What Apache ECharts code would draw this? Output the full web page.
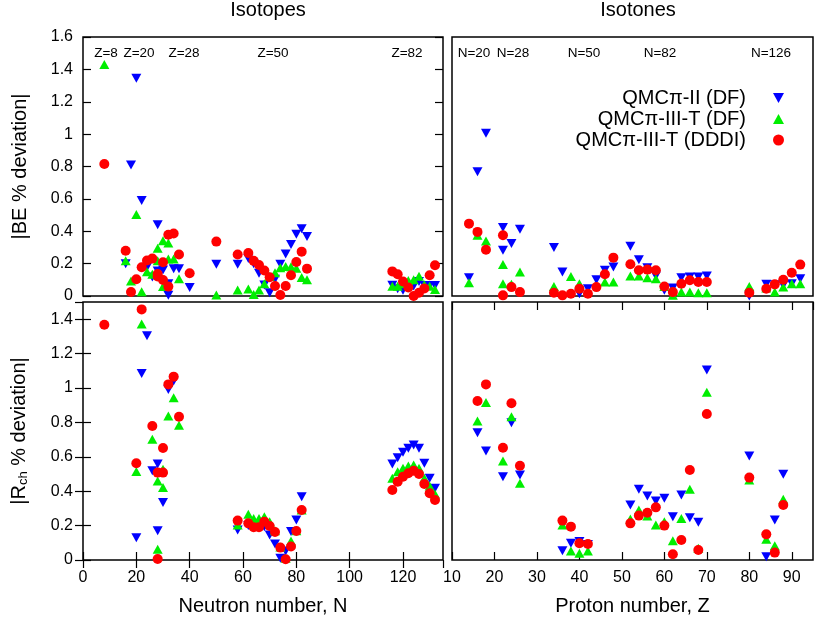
<!DOCTYPE html>
<html>
<head>
<meta charset="utf-8">
<script src="https://cdn.jsdelivr.net/npm/echarts/dist/echarts.min.js"></script>
<style>
  html, body { margin: 0; padding: 0; background: #fff; }
  #main { width: 830px; height: 623px; }
</style>
</head>
<body>
<div id="main"></div>
<script>
// series names
const names = ['QMCπ-II (DF)', 'QMCπ-III-T (DF)', 'QMCπ-III-T (DDDI)'];

// |BE % deviation| vs neutron number N (isotopes)
const beIsoII = [[16,0.2],[18,0.81],[20,1.345],[22,0.59],[24,0.178],[26,0.117],[28,0.44],[28,0.155],[30,0.16],[32,0.076],[32,0.004],[34,0.168],[36,0.168],[40,0.052],
  [50,0.196],[58,0.196],[62,0.231],[64,0.2],[66,0.14],[68,0.068],[70,0.02],[72,0.103],[74,0.196],[76,0.26],[78,0.318],[80,0.382],[82,0.415],[84,0.367],
  [116,0.066],[118,0.045],[120,0.035],[122,0.06],[124,0.062],[126,0.09],[128,0.065],[130,0.065],[132,0.065]];
const beIsoDF = [[8,1.43],[16,0.217],[18,0.093],[20,0.503],[22,0.027],[24,0.15],[26,0.134],[28,0.295],[28,0.217],[30,0.342],[30,0.058],[32,0.328],[32,0.229],[34,0.229],[36,0.107],
  [50,0.006],[58,0.037],[62,0.043],[64,0.01],[66,0.037],[68,0.075],[70,0.12],[72,0.144],[74,0.175],[76,0.183],[78,0.18],[80,0.171],[82,0.115],[84,0.1],
  [116,0.06],[118,0.06],[120,0.075],[122,0.095],[124,0.1],[126,0.122],[128,0.07],[130,0.06],[132,0.04]];
const beIsoDDDI = [[8,0.815],[16,0.28],[18,0.025],[20,0.103],[22,0.178],[24,0.219],[26,0.231],[28,0.136],[28,0.12],[30,0.209],[30,0.099],[32,0.378],[32,0.058],[34,0.386],[36,0.256],[40,0.14],
  [50,0.336],[58,0.256],[62,0.266],[64,0.217],[66,0.192],[68,0.157],[70,0.116],[72,0.062],[74,0.006],[76,0.062],[78,0.128],[80,0.21],[82,0.274],[84,0.169],
  [116,0.152],[118,0.134],[120,0.09],[122,0.053],[124,0.0],[126,0.02],[128,0.047],[130,0.128],[132,0.19]];

// |BE % deviation| vs proton number Z (isotones)
const beTonII = [[14,0.113],[16,0.767],[18,1.005],[22,0.423],[22,0.282],[24,0.324],[26,0.412],[34,0.299],[36,0.148],[40,0.014],[42,0.045],[44,0.1],[46,0.159],[48,0.179],
  [52,0.307],[54,0.224],[56,0.175],[58,0.123],[60,0.035],[62,0.049],[64,0.113],[66,0.117],[68,0.117],[70,0.123],[80,0.0],[84,0.072],[86,0.07],[88,0.066],[90,0.076],[92,0.107]];
const beTonDF = [[14,0.082],[16,0.375],[18,0.34],[22,0.194],[22,0.076],[24,0.072],[26,0.148],[34,0.059],[38,0.121],[40,0.076],[46,0.086],[48,0.086],
  [52,0.123],[54,0.123],[56,0.113],[58,0.107],[60,0.059],[62,0.004],[64,0.024],[66,0.024],[68,0.02],[70,0.02],[80,0.059],[84,0.05],[86,0.024],[88,0.055],[90,0.076],[92,0.076]];
const beTonDDDI = [[14,0.447],[16,0.396],[18,0.286],[22,0.375],[22,0.004],[24,0.055],[26,0.024],[34,0.02],[36,0.004],[38,0.014],[40,0.045],[42,0.014],[44,0.055],[46,0.134],[48,0.237],
  [52,0.196],[54,0.159],[56,0.163],[58,0.159],[60,0.059],[62,0.024],[64,0.076],[66,0.097],[68,0.086],[70,0.086],[80,0.02],[84,0.045],[86,0.072],[88,0.1],[90,0.144],[92,0.194]];

// |Rch % deviation| vs neutron number N (isotopes)
const rIsoII = [[20,0.13],[22,1.085],[24,1.304],[26,0.519],[28,0.558],[28,0.17],[30,0.335],[32,0.992],[34,1.04],
  [58,0.174],[62,0.2],[64,0.19],[66,0.19],[68,0.194],[70,0.145],[72,0.093],[74,0.01],[76,0.052],[78,0.165],[80,0.233],[82,0.368],
  [116,0.558],[118,0.595],[120,0.626],[122,0.649],[124,0.669],[126,0.649],[128,0.562],[130,0.475],[132,0.417]];
const rIsoDF = [[20,0.514],[22,1.372],[26,0.702],[28,0.459],[28,0.062],[30,0.527],[30,0.422],[32,0.837],[34,0.944],[36,0.783],
  [58,0.203],[62,0.266],[64,0.242],[66,0.242],[68,0.252],[70,0.223],[72,0.17],[74,0.075],[76,0.01],[78,0.11],[80,0.17],[82,0.29],
  [116,0.475],[118,0.513],[120,0.533],[122,0.547],[124,0.552],[126,0.533],[128,0.475],[130,0.43],[132,0.384]];
const rIsoDDDI = [[8,1.368],[20,0.562],[22,1.457],[26,0.779],[28,0.508],[28,0.006],[30,0.508],[30,0.651],[32,1.021],[34,1.066],[36,0.833],
  [58,0.229],[62,0.213],[64,0.19],[66,0.19],[68,0.223],[70,0.198],[72,0.163],[74,0.072],[76,0.004],[78,0.078],[80,0.169],[82,0.291],
  [116,0.407],[118,0.455],[120,0.484],[122,0.504],[124,0.519],[126,0.5],[128,0.442],[130,0.388],[132,0.349]];

// |Rch % deviation| vs proton number Z (isotones)
const rTonII = [[16,0.74],[18,0.634],[22,0.484],[24,0.798],[26,0.494],[36,0.054],[38,0.097],[40,0.107],[42,0.09],
  [52,0.32],[54,0.411],[56,0.372],[58,0.343],[60,0.359],[62,0.252],[64,0.378],[66,0.246],[68,0.219],[70,1.105],[80,0.605],[84,0.019],[86,0.233],[88,0.498]];
const rTonDF = [[16,0.808],[18,0.915],[22,0.576],[24,0.833],[26,0.446],[36,0.203],[38,0.052],[40,0.039],[42,0.052],
  [52,0.238],[54,0.291],[56,0.256],[58,0.203],[60,0.223],[62,0.112],[64,0.242],[66,0.411],[68,0.068],[70,0.975],[80,0.465],[84,0.12],[86,0.083],[88,0.353]];
const rTonDDDI = [[16,0.924],[18,1.021],[22,0.653],[24,0.911],[26,0.548],[36,0.229],[38,0.194],[40,0.097],[42,0.093],
  [52,0.213],[54,0.258],[56,0.275],[58,0.306],[60,0.2],[62,0.033],[64,0.116],[66,0.523],[68,0.058],[70,0.849],[80,0.479],[84,0.149],[86,0.043],[88,0.32]];

// magic number labels
const zMagic = ['Z=8', 'Z=20', 'Z=28', 'Z=50', 'Z=82'];
const nMagic = ['N=20', 'N=28', 'N=50', 'N=82', 'N=126'];

const FONT = 'Liberation Sans, Arial, sans-serif';
const colors = ['#0000ff', '#00ee00', '#ff0000'];
// legend icons: down triangle, up triangle, circle
const icons = ['path://M0,0 L10,0 L5,9 Z', 'path://M5,0 L10,9 L0,9 Z', 'circle'];

let chart = echarts.init(document.getElementById('main'));

function marks(idx, xi, yi, lists) {
  return lists.map(function (d, k) {
    return {
      name: names[k],
      type: 'scatter',
      xAxisIndex: xi,
      yAxisIndex: yi,
      data: d,
      symbol: k === 2 ? 'circle' : 'triangle',
      symbolRotate: k === 0 ? 180 : 0,
      symbolSize: k === 2 ? 10 : [10, 9],
      itemStyle: { color: colors[k], opacity: 1 },
      z: 2 + k,
      silent: true
    };
  });
}

function xAx(grid, min, max, step, opts) {
  return Object.assign({
    type: 'value', gridIndex: grid, min: min, max: max, interval: step,
    axisLine: { show: false },
    splitLine: { show: false },
    axisTick: { show: false, inside: true, length: 8, lineStyle: { color: '#000', width: 1.2 } },
    axisLabel: { show: false, color: '#000', fontSize: 16, fontFamily: FONT, margin: 10, showMaxLabel: false }
  }, opts || {});
}

function yAx(grid, max, opts) {
  return Object.assign({
    type: 'value', gridIndex: grid, min: 0, max: max, interval: 0.2,
    axisLine: { show: false },
    splitLine: { show: false },
    axisTick: { show: false, inside: true, length: 8, lineStyle: { color: '#000', width: 1.2 } },
    axisLabel: { show: false, color: '#000', fontSize: 16, fontFamily: FONT, margin: 10,
      formatter: function (v) { return String(Math.round(v * 10) / 10); } }
  }, opts || {});
}

const tickOn = { show: true, inside: true, length: 8, lineStyle: { color: '#000', width: 1.2 } };
const nameStyle = { color: '#000', fontSize: 20, fontFamily: FONT,
  rich: { sub: { fontSize: 13, verticalAlign: 'bottom', padding: [8, 0, 0, 0], fontFamily: FONT, color: '#000' } } };

const gridBox = { show: true, borderColor: '#000', borderWidth: 1.5, backgroundColor: 'transparent' };

function legendFor(i, top) {
  return {
    data: [{ name: names[i], icon: icons[i] }], right: 46, top: top, align: 'right', padding: 0,
    itemWidth: 11, itemHeight: 11, selectedMode: false, symbolKeepAspect: true,
    textStyle: { fontSize: 20, fontFamily: FONT, color: '#000', padding: [0, 22, 0, 0] }
  };
}

function label(txt, x, y) {
  return { type: 'text', x: x, y: y, silent: true,
    style: { text: txt, font: '13.5px ' + FONT, fill: '#000', align: 'center', verticalAlign: 'middle' } };
}

const zPos = [106, 139, 184, 273, 407];
const nPos = [474, 513, 584, 660, 771];

let option = {
  animation: false,
  backgroundColor: '#fff',
  title: [
    { text: 'Isotopes', left: 263, top: -5, textAlign: 'center', textStyle: { fontSize: 20, fontWeight: 'normal', fontFamily: FONT, color: '#000' } },
    { text: 'Isotones', left: 633, top: -5, textAlign: 'center', textStyle: { fontSize: 20, fontWeight: 'normal', fontFamily: FONT, color: '#000' } }
  ],
  legend: [legendFor(0, 88), legendFor(1, 109), legendFor(2, 130)],
  grid: [
    Object.assign({ left: 83, top: 37, width: 360, height: 259 }, gridBox),
    Object.assign({ left: 452, top: 37, width: 361, height: 259 }, gridBox),
    Object.assign({ left: 83, top: 302, width: 360, height: 258 }, gridBox),
    Object.assign({ left: 452, top: 302, width: 361, height: 258 }, gridBox)
  ],
  xAxis: [
    xAx(0, 0, 135, 20),
    xAx(1, 10, 95, 10),
    xAx(2, 0, 135, 20, { axisTick: tickOn, axisLabel: { show: true, color: '#000', fontSize: 16, fontFamily: FONT, margin: 10, showMaxLabel: false },
      name: 'Neutron number, N', nameLocation: 'middle', nameGap: 36, nameTextStyle: nameStyle }),
    xAx(2, 0, 135, 20, { position: 'top', axisTick: tickOn }),
    xAx(3, 10, 95, 10, { axisTick: tickOn, axisLabel: { show: true, color: '#000', fontSize: 16, fontFamily: FONT, margin: 10, showMaxLabel: false },
      name: 'Proton number, Z', nameLocation: 'middle', nameGap: 36, nameTextStyle: nameStyle }),
    xAx(3, 10, 95, 10, { position: 'top', axisTick: tickOn })
  ],
  yAxis: [
    yAx(0, 1.6, { axisTick: tickOn, axisLabel: { show: true, color: '#000', fontSize: 16, fontFamily: FONT, margin: 10,
        formatter: function (v) { return String(Math.round(v * 10) / 10); } },
      name: '|BE % deviation|', nameLocation: 'middle', nameGap: 53, nameTextStyle: nameStyle }),
    yAx(0, 1.6, { position: 'right', axisTick: tickOn }),
    yAx(1, 1.6),
    yAx(2, 1.5, { axisTick: tickOn, axisLabel: { show: true, color: '#000', fontSize: 16, fontFamily: FONT, margin: 10, showMaxLabel: false,
        formatter: function (v) { return String(Math.round(v * 10) / 10); } },
      name: '|R{sub|ch} % deviation|', nameLocation: 'middle', nameGap: 53, nameTextStyle: nameStyle }),
    yAx(2, 1.5, { position: 'right', axisTick: tickOn }),
    yAx(3, 1.5)
  ],
  graphic: zMagic.map(function (t, i) { return label(t, zPos[i], 53); })
    .concat(nMagic.map(function (t, i) { return label(t, nPos[i], 53); })),
  series: [].concat(
    marks(0, 0, 0, [beIsoII, beIsoDF, beIsoDDDI]),
    marks(1, 1, 2, [beTonII, beTonDF, beTonDDDI]),
    marks(2, 2, 3, [rIsoII, rIsoDF, rIsoDDDI]),
    marks(3, 4, 5, [rTonII, rTonDF, rTonDDDI])
  )
};

chart.setOption(option);
</script>
</body>
</html>
